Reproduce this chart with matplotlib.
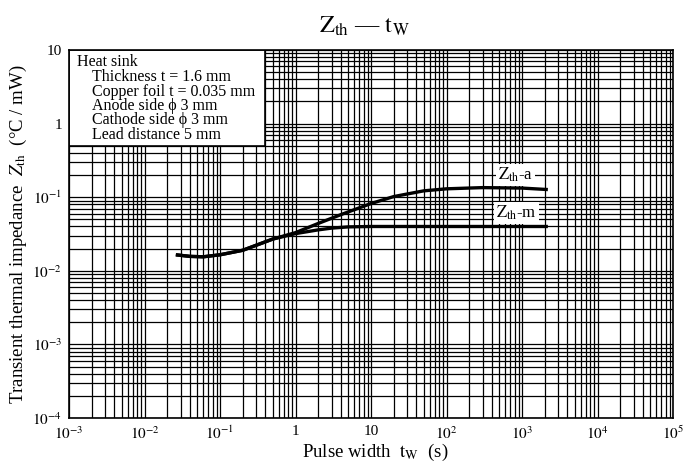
import numpy as np
import matplotlib
matplotlib.use("Agg")
import matplotlib.pyplot as plt
from matplotlib.ticker import LogLocator, FixedLocator, NullFormatter, FuncFormatter
from matplotlib.patches import Rectangle

plt.rcParams["font.family"] = ["Liberation Serif", "DejaVu Serif"]
plt.rcParams["mathtext.fontset"] = "stix"

# Zth-a curve
t_a = [0.026, 0.04, 0.06, 0.1, 0.2, 0.5, 1, 2, 4, 10, 20, 50, 100, 300, 1000, 2200]
z_a = [0.0165, 0.0157, 0.0155, 0.0165, 0.019, 0.027, 0.033, 0.044, 0.058, 0.082,
       0.102, 0.122, 0.130, 0.135, 0.133, 0.127]

# Zth-m curve
t_m = [0.026, 0.04, 0.06, 0.1, 0.2, 0.5, 1, 2, 3, 5, 10, 100, 2200]
z_m = [0.0165, 0.0157, 0.0155, 0.0165, 0.019, 0.027, 0.032, 0.036, 0.038, 0.0395,
       0.040, 0.040, 0.040]

x_ticks = [1e-3, 1e-2, 1e-1, 1, 10, 1e2, 1e3, 1e4, 1e5]
y_ticks = [1e-4, 1e-3, 1e-2, 1e-1, 1, 10]

note_lines = ["Heat sink", "Thickness t = 1.6 mm", "Copper foil t = 0.035 mm",
              "Anode side \u03d5 3 mm", "Cathode side \u03d5 3 mm", "Lead distance 5 mm"]


def fmt(v, pos):
    e = int(round(np.log10(v)))
    if e == 0:
        return "1"
    if e == 1:
        return "10"
    return r"$10^{%d}$" % e


W, H = 685, 470
fig = plt.figure(figsize=(W / 100, H / 100), dpi=100)
ax = fig.add_axes([69 / W, 1 - 418 / H, 604 / W, 368 / H])

ax.set_xscale("log")
ax.set_yscale("log")
ax.set_xlim(1e-3, 1e5)
ax.set_ylim(1e-4, 10)

ax.xaxis.set_major_locator(FixedLocator(x_ticks))
ax.yaxis.set_major_locator(FixedLocator(y_ticks))
ax.xaxis.set_minor_locator(LogLocator(base=10, subs=np.arange(2, 10), numticks=20))
ax.yaxis.set_minor_locator(LogLocator(base=10, subs=np.arange(2, 10), numticks=20))
ax.xaxis.set_minor_formatter(NullFormatter())
ax.yaxis.set_minor_formatter(NullFormatter())
ax.xaxis.set_major_formatter(FuncFormatter(fmt))
ax.yaxis.set_major_formatter(FuncFormatter(fmt))
ax.tick_params(which="both", length=0, labelsize=11, pad=5)

ax.set_axisbelow(True)
ax.grid(which="both", color="black", linewidth=0.9)
for s in ax.spines.values():
    s.set_linewidth(1.2)

# white note box hides the grid in the upper-left corner
ax.add_patch(Rectangle((1e-3, 0.5), 0.4 - 1e-3, 10 - 0.5, facecolor="white",
                       edgecolor="black", linewidth=1.2, zorder=1.5))

ax.plot(t_a, z_a, color="black", linewidth=2.4, zorder=3, solid_capstyle="butt")
ax.plot(t_m, z_m, color="black", linewidth=2.4, zorder=3, solid_capstyle="butt")

lbl = dict(facecolor="white", edgecolor="none", pad=1.5)
ax.text(820, 0.2, r"$\mathrm{Z_{th}}$-a", fontsize=12, ha="center", va="center",
        bbox=lbl, zorder=4)
ax.text(850, 0.061, r"$\mathrm{Z_{th}}$-m", fontsize=12, ha="center", va="center",
        bbox=lbl, zorder=4)

# note text inside the box
ys = [62.5, 77, 91.5, 106, 120.5, 135]
for i, (line, yy) in enumerate(zip(note_lines, ys)):
    xx = 77 if i == 0 else 92
    fig.text(xx / W, 1 - yy / H, line, fontsize=11.5, ha="left", va="center")

fig.text(364 / W, 1 - 26 / H, "$\\mathrm{Z_{th}}$ \u2014 $\\mathrm{t_W}$",
         fontsize=17.5, ha="center", va="center")
fig.text(18 / W, 1 - 234 / H, r"Transient thermal impedance  $Z_{\mathrm{th}}$  (°C / mW)",
         fontsize=13.5, rotation=90, ha="center", va="center")
fig.text(375 / W, 1 - 452 / H, r"Pulse width  $\mathrm{t_W}$  (s)",
         fontsize=13.5, ha="center", va="center")

fig.savefig("out.png", dpi=100)
